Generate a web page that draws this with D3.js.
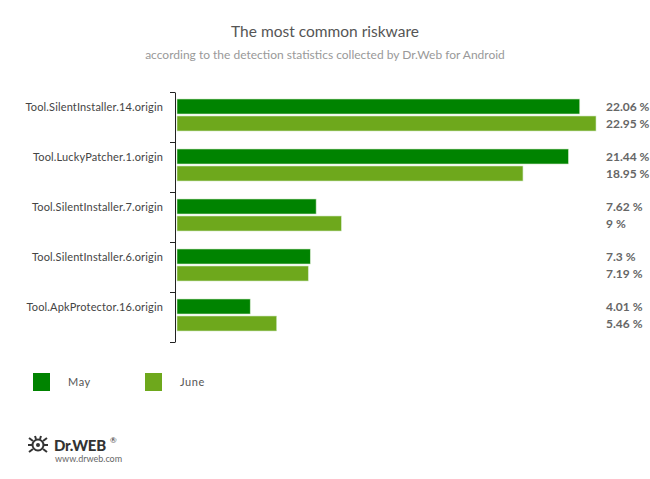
<!DOCTYPE html>
<html><head><meta charset="utf-8">
<script src="https://cdn.jsdelivr.net/npm/d3@7/dist/d3.min.js"></script>
<style>body{margin:0;background:#fff}svg{display:block}text{font-family:Lato,"Open Sans",sans-serif}</style>
</head><body>
<svg id="c" width="650" height="479"></svg>
<script>
const categories = ["Tool.SilentInstaller.14.origin","Tool.LuckyPatcher.1.origin","Tool.SilentInstaller.7.origin","Tool.SilentInstaller.6.origin","Tool.ApkProtector.16.origin"];
const mayValues = [22.06, 21.44, 7.62, 7.3, 4.01];
const juneValues = [22.95, 18.95, 9, 7.19, 5.46];
const valueLabels = [["22.06 %","22.95 %"],["21.44 %","18.95 %"],["7.62 %","9 %"],["7.3 %","7.19 %"],["4.01 %","5.46 %"]];
const seriesNames = ["May","June"];
const colors = ["#008300","#6ea81c"];

const svg = d3.select("#c");
svg.append("text").attr("x",325).attr("y",37).attr("text-anchor","middle").attr("font-size",15.5).attr("fill","#555").text("The most common riskware");
svg.append("text").attr("x",325).attr("y",59).attr("text-anchor","middle").attr("font-size",12).attr("fill","#999").text("according to the detection statistics collected by Dr.Web for Android");

const y = d3.scaleBand().domain(categories).range([92,342]);
const x = d3.scaleLinear().domain([0, d3.max(juneValues.concat(mayValues))]).range([177,596]);

const ax = svg.append("g").attr("transform","translate(175,0)").call(d3.axisLeft(y).tickSize(0).tickFormat(""));
ax.select(".domain").attr("stroke","#222");
const bounds = categories.map(c=>y(c)).concat([y.range()[1]]);
ax.selectAll("line.b").data(bounds).enter().append("line").attr("class","b")
  .attr("x1",-5).attr("x2",0).attr("y1",d=>d+0.5).attr("y2",d=>d+0.5).attr("stroke","#222");

const data = categories.map((c,i)=>({c, v:[mayValues[i], juneValues[i]], l:valueLabels[i]}));
const g = svg.append("g");
data.forEach(d=>{
  d.v.forEach((v,j)=>{
    const yy = y(d.c) + 7 + j*17;
    g.append("rect").attr("x",x(0)).attr("y",yy).attr("width",x(v)-x(0)).attr("height",15)
      .attr("fill",colors[j]).attr("stroke","#cfe6c4").attr("stroke-width",0.6);
    g.append("text").attr("x",606).attr("y",yy+12).attr("font-size",12).attr("font-weight","bold").attr("fill","#666").text(d.l[j]);
  });
  g.append("text").attr("x",163).attr("y",y(d.c)+18.5).attr("text-anchor","end").attr("font-size",11).attr("fill","#444").attr("letter-spacing",0.15).text(d.c);
});

const lg = svg.append("g");
seriesNames.forEach((n,i)=>{
  lg.append("rect").attr("x",33+i*112).attr("y",373).attr("width",17).attr("height",18).attr("fill",colors[i]);
  lg.append("text").attr("x",68+i*112).attr("y",386).attr("font-size",11).attr("fill","#555").attr("letter-spacing",0.6).text(n);
});

const logo = svg.append("g").attr("transform","translate(38,445)");
logo.append("circle").attr("r",5.5).attr("fill","none").attr("stroke","#333").attr("stroke-width",2);
logo.append("circle").attr("r",2).attr("fill","#333");
[[-9,-7,-5,-4],[9,-7,5,-4],[-10,0,-6,0],[10,0,6,0],[-9,7,-5,4],[9,7,5,4],[-3,-9,-2,-6],[3,-9,2,-6]].forEach(p=>{
  logo.append("line").attr("x1",p[0]).attr("y1",p[1]).attr("x2",p[2]).attr("y2",p[3]).attr("stroke","#333").attr("stroke-width",2);
});
svg.append("text").attr("x",54).attr("y",451).attr("font-size",15).attr("font-weight",900).attr("fill","#333").attr("font-family","'DejaVu Sans',sans-serif").attr("letter-spacing",-0.3).text("Dr.WEB");
svg.append("text").attr("x",110).attr("y",443).attr("font-size",8).attr("fill","#333").text("®");
svg.append("text").attr("x",55).attr("y",462).attr("font-size",9).attr("fill","#666").text("www.drweb.com");
</script>
</body></html>
